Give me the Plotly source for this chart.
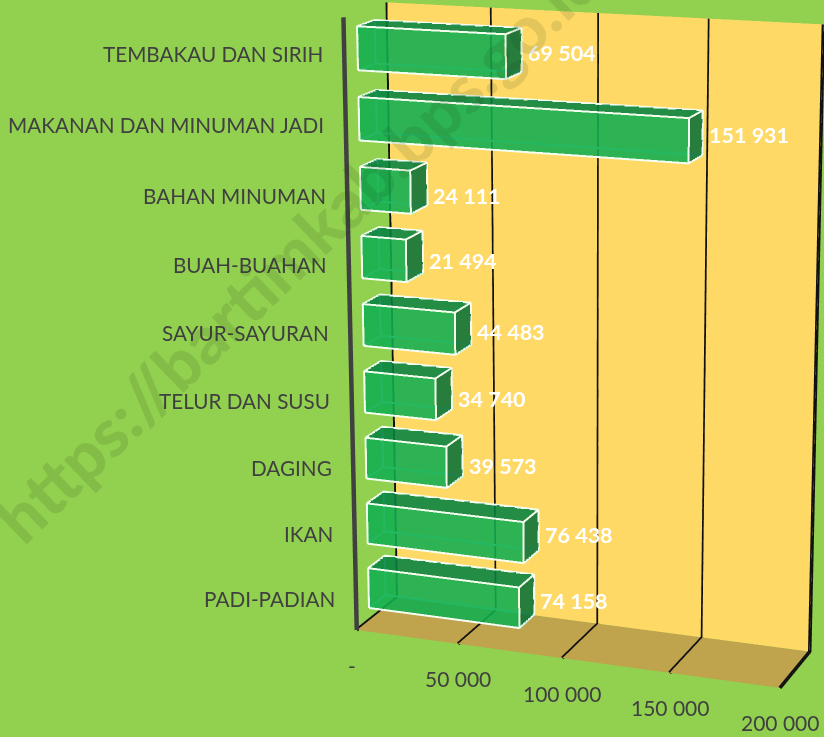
import numpy as np
import plotly.graph_objects as go

categories = ["PADI-PADIAN","IKAN","DAGING","TELUR DAN SUSU","SAYUR-SAYURAN","BUAH-BUAHAN","BAHAN MINUMAN","MAKANAN DAN MINUMAN JADI","TEMBAKAU DAN SIRIH"]
values = [74158,76438,39573,34740,44483,21494,24111,151931,69504]
tick_values = [0,50000,100000,150000,200000]
tick_labels = ["-","50 000","100 000","150 000","200 000"]
label_yshift = [-6,-5,-10,-10,-8,-9,-12,-2,-3]

# Camera: the reference has a long lens, so the WebGL scene is laid out larger than the
# window (plotly's field of view is fixed) and the window looks at part of it.
eye = (0.4276,-1.1593,0.3284)
center = (0.1751,-0.5426,0.1462)
up = (-0.0981,0.2658,1.0)
aspect = (0.1998,0.0465,0.2801)
FOCAL = 2924.2
PX, PY = 481.03, 361.46
BH = int(round(2*FOCAL*np.tan(np.pi/8))); BW = BH
MX = PX-BW/2; MY = PY-BH/2
def paper(X,Y): return (X-MX)/BW, 1-(Y-MY)/BH

ROWS = len(categories)
BAR_HALF = .31
Y0, Y1 = .3, .7
XM = tick_values[-1]
LIGHT = dict(ambient=1,diffuse=0,specular=0,fresnel=0,roughness=1)
fig = go.Figure()

def quad(xs,ys,zs,color):
    fig.add_trace(go.Mesh3d(x=xs,y=ys,z=zs,i=[0,0],j=[1,2],k=[2,3],color=color,opacity=1,flatshading=True,lighting=LIGHT,hoverinfo="skip",showscale=False))
def line(xs,ys,zs,color,width):
    fig.add_trace(go.Scatter3d(x=xs,y=ys,z=zs,mode="lines",line=dict(color=color,width=width),hoverinfo="skip",showlegend=False))

quad([0,XM,XM,0],[1,1,1,1],[0,0,ROWS,ROWS],"#FFD966")
quad([0,XM,XM,0],[0,0,1,1],[0,0,0,0],"#BFA34D")
gx,gy,gz = [],[],[]
for t in tick_values:
    gx += [t,t,t,None]; gy += [0,1,1,None]; gz += [0,0,ROWS,None]
line(gx,gy,gz,"#111111",7)
line([0,0],[0,0],[0,ROWS],"#404040",9)

ann = []
for i,(c,v) in enumerate(zip(categories,values)):
    a,b = i+.5-BAR_HALF, i+.5+BAR_HALF
    n = None
    # hidden edges, seen faintly through the translucent faces
    line([0,0,n,0,v,n,0,0,n,v,v],[Y1,Y1,n,Y1,Y1,n,Y0,Y1,n,Y0,Y1],[a,b,n,a,a,n,a,a,n,a,a],"#B8FFF0",4)
    X = [0,v,v,0,0,v,v,0]; Y = [Y0,Y0,Y1,Y1]*2; Z = [a]*4+[b]*4
    tri = [(0,1,5),(0,5,4),(4,5,6),(4,6,7),(1,2,6),(1,6,5)]
    cols = ["#10AE50"]*2+["#058241"]*2+["#087036"]*2
    fig.add_trace(go.Mesh3d(x=X,y=Y,z=Z,i=[t[0] for t in tri],j=[t[1] for t in tri],k=[t[2] for t in tri],facecolor=cols,opacity=.88,flatshading=True,lighting=LIGHT,hoverinfo="skip",showscale=False))
    ex = [0,v,v,0,0,n, 0,0,n, v,v,n, 0,0,v,v,n, v,v]
    ey = [Y0,Y0,Y0,Y0,Y0,n, Y0,Y1,n, Y0,Y1,n, Y0,Y1,Y1,Y0,n, Y1,Y1]
    ez = [a,a,b,b,a,n, b,b,n, a,a,n, b,b,b,b,n, b,a]
    line(ex,[y-.002 if y is not None else None for y in ey],ez,"#F4FFF4",4)
    label = f"{v:,}".replace(","," ")
    ann.append(dict(x=v,y=Y1,z=i+.5,text=f"<b>{label}</b>",showarrow=False,xanchor="left",yanchor="middle",xshift=4,yshift=label_yshift[i],font=dict(family="Lato",size=21.5,color="white")))
    ann.append(dict(x=0,y=0,z=i+.5,text=c,showarrow=False,xanchor="right",yanchor="middle",xshift=-19.5,yshift=-1,font=dict(family="Lato",size=20.7,color="#404040")))
for t,l in zip(tick_values,tick_labels):
    ann.append(dict(x=min(t,XM*.9999),y=0,z=0,text=l,showarrow=False,xanchor="center",yanchor="middle",xshift=-5 if t==0 else 0,yshift=-35,font=dict(family="Lato",size=21,color="#404040")))

wx,wy = paper(297,247)
fig.update_layout(width=BW,height=BH,margin=dict(l=0,r=0,t=0,b=0),paper_bgcolor="#92D050",showlegend=False,
 scene=dict(domain=dict(x=[0,1],y=[0,1]),bgcolor="rgba(0,0,0,0)",aspectmode="manual",aspectratio=dict(x=aspect[0],y=aspect[1],z=aspect[2]),
   xaxis=dict(visible=False,range=[0,XM]),yaxis=dict(visible=False,range=[0,1]),zaxis=dict(visible=False,range=[0,ROWS]),
   camera=dict(eye=dict(x=eye[0],y=eye[1],z=eye[2]),center=dict(x=center[0],y=center[1],z=center[2]),up=dict(x=up[0],y=up[1],z=up[2]),projection=dict(type="perspective")),
   annotations=ann),
 annotations=[dict(text="https://bartimkab.bps.go.id",textangle=-44,x=wx,y=wy,xref="paper",yref="paper",showarrow=False,font=dict(family="Lato",size=67,weight=900,color="rgba(30,60,20,0.13)"))])
post = f"document.documentElement.style.overflow='hidden';document.body.style.overflow='hidden';document.body.style.margin='0';document.body.style.marginLeft='{MX}px';document.body.style.marginTop='{MY}px';"
fig.write_html("out.html",config=dict(displayModeBar=False),post_script=post)
